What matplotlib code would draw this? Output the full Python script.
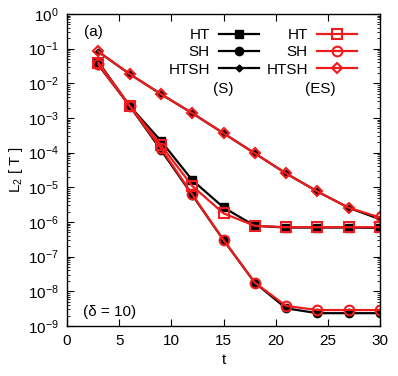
import numpy as np
import matplotlib
matplotlib.use('Agg')
import matplotlib.pyplot as plt

t = [3, 6, 9, 12, 15, 18, 21, 24, 27, 30]

# log10 of L2[T]
ht_s = [-1.38, -2.65, -3.66, -4.79, -5.58, -6.11, -6.16, -6.16, -6.16, -6.17]
sh_s = [-1.47, -2.65, -3.92, -5.22, -6.52, -7.75, -8.49, -8.63, -8.63, -8.63]
htsh_s = [-1.09, -1.73, -2.31, -2.86, -3.44, -4.02, -4.60, -5.12, -5.59, -5.92]
ht_es = [-1.40, -2.65, -3.78, -4.96, -5.75, -6.11, -6.15, -6.15, -6.15, -6.15]
sh_es = [-1.45, -2.65, -3.87, -5.20, -6.52, -7.75, -8.42, -8.54, -8.54, -8.54]
htsh_es = [-1.08, -1.73, -2.31, -2.86, -3.44, -4.02, -4.60, -5.12, -5.59, -5.87]

plt.rcParams['font.family'] = ['Liberation Sans', 'DejaVu Sans']
plt.rcParams['font.size'] = 11
plt.rcParams['mathtext.fontset'] = 'custom'
plt.rcParams['mathtext.rm'] = 'Liberation Sans'

fig = plt.figure(figsize=(3.98, 3.76), dpi=100)
ax = fig.add_axes([67/398, 1-326/376, 313/398, 312/376])

red = '#ee1c1c'
lw = 1.6
p = lambda v: 10 ** np.array(v)

ax.plot(t, p(ht_s), '-s', color='k', lw=lw, ms=6, label='HT')
ax.plot(t, p(sh_s), '-o', color='k', lw=lw, ms=6, label='SH')
ax.plot(t, p(htsh_s), '-D', color='k', lw=lw, ms=3.5, label='HTSH')
ax.plot(t, p(ht_es), '-s', color=red, lw=lw, ms=7, mfc='none', mew=1.5, label='HT')
ax.plot(t, p(sh_es), '-o', color=red, lw=lw, ms=7, mfc='none', mew=1.5, label='SH')
ax.plot(t, p(htsh_es), '-D', color=red, lw=lw, ms=5, mfc='none', mew=1.5, label='HTSH')

ax.set_yscale('log')
ax.set_xlim(0, 30)
ax.set_ylim(1e-9, 1)
ax.set_xticks([0, 5, 10, 15, 20, 25, 30])
ax.yaxis.set_major_locator(matplotlib.ticker.LogLocator(base=10, numticks=20))
ax.yaxis.set_minor_locator(matplotlib.ticker.LogLocator(base=10, subs=np.arange(2, 10), numticks=20))
ax.yaxis.set_minor_formatter(matplotlib.ticker.NullFormatter())
ax.tick_params(which='both', direction='in', top=True, right=True)
ax.tick_params(which='major', length=5, pad=6)
ax.tick_params(which='minor', length=2.5)
for s in ax.spines.values():
    s.set_linewidth(1.0)

ax.set_xlabel('t', labelpad=3)
ax.set_ylabel('L$_2$ [ T ]', labelpad=2)

ax.legend(ncol=2, markerfirst=False, frameon=False, loc='upper right',
          bbox_to_anchor=(0.945, 0.975), handlelength=2.6, columnspacing=0.5,
          labelspacing=0.22, handletextpad=0.6, borderaxespad=0)
ax.text(0.50, 0.76, '(S)', transform=ax.transAxes, ha='center', va='center')
ax.text(0.81, 0.76, '(ES)', transform=ax.transAxes, ha='center', va='center')
ax.text(0.086, 0.942, '(a)', transform=ax.transAxes, ha='center', va='center')
ax.text(0.052, 0.045, '(δ = 10)', transform=ax.transAxes, ha='left', va='center')

fig.savefig('out.png', dpi=100)
